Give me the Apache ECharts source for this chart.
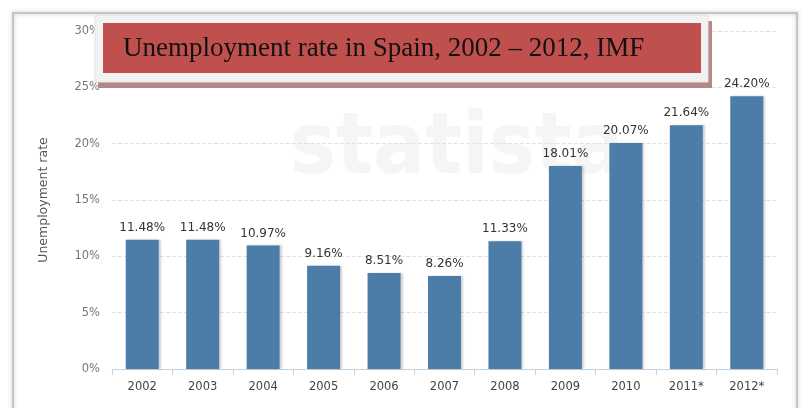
<!DOCTYPE html>
<html><head><meta charset="utf-8">
<script src="https://cdn.jsdelivr.net/npm/echarts@6/dist/echarts.min.js"></script>
<style>html,body{margin:0;padding:0;background:#fff}#c{width:803px;height:408px}</style>
</head><body><div id="c"></div>
<script>
var years = ['2002','2003','2004','2005','2006','2007','2008','2009','2010','2011*','2012*'];
var rates = [11.48, 11.48, 10.97, 9.16, 8.51, 8.26, 11.33, 18.01, 20.07, 21.64, 24.20];
var yTicks = [0, 5, 10, 15, 20, 25, 30];
var titleText = 'Unemployment rate in Spain, 2002 \u2013 2012, IMF';
var yName = 'Unemployment rate';

var chart = echarts.init(document.getElementById('c'), null, {renderer:'canvas'});
chart.setOption({
  backgroundColor:'#fff',
  animation:false,
  grid:{left:112, right:26, top:31, bottom:39},
  xAxis:{type:'category', data:years,
    axisLine:{lineStyle:{color:'#c3d1df', width:1}},
    axisTick:{show:true, lineStyle:{color:'#c3d1df'}, length:6},
    axisLabel:{color:'#444', fontFamily:'DejaVu Sans', fontSize:11.5, margin:12}},
  yAxis:{type:'value', min:yTicks[0], max:yTicks[yTicks.length-1], interval:5,
    name:yName, nameLocation:'middle', nameGap:62, nameRotate:90,
    nameTextStyle:{color:'#555', fontFamily:'DejaVu Sans', fontSize:12.5},
    axisLine:{show:false}, axisTick:{show:false},
    axisLabel:{color:'#777', fontFamily:'DejaVu Sans', fontSize:11.5, margin:12, formatter:function(v){return v+'%';}},
    splitLine:{lineStyle:{color:'#e2e2e2', type:'dashed'}}},
  series:[{type:'bar', data:rates, barWidth:33, barGap:'0%',
    itemStyle:{color:'#4c7da8', shadowColor:'rgba(0,0,0,0.18)', shadowOffsetX:2, shadowBlur:2},
    label:{show:true, position:'top', distance:6, color:'#333', fontFamily:'DejaVu Sans', fontSize:12,
      formatter:function(p){return p.value.toFixed(2)+'%';}}}],
  graphic:[
    {type:'rect', z:-10, silent:true, shape:{x:13,y:13,width:784,height:420},
      style:{fill:'none', stroke:'#b8b8b8', lineWidth:1.5, shadowBlur:4, shadowColor:'rgba(0,0,0,0.3)'}},
    {type:'text', z:-5, silent:true, left:290, top:108,
      style:{text:'statista', fill:'#f5f5f5', font:'bold 86px "DejaVu Sans Condensed", "Liberation Sans Narrow", sans-serif'}},
    {type:'rect', z:100, silent:true, shape:{x:98,y:21,width:614,height:67},
      style:{fill:'#b58888'}},
    {type:'rect', z:101, silent:true, shape:{x:95,y:15,width:613,height:67},
      style:{fill:'#f1f1f1', stroke:'#e4e4e4', lineWidth:1}},
    {type:'rect', z:102, silent:true, shape:{x:103,y:23,width:598,height:50},
      style:{fill:'#c0504e'}},
    {type:'text', z:103, silent:true, left:123, top:35,
      style:{text:titleText, fill:'#111', font:'27px "Liberation Serif", "Times New Roman", serif'}}
  ]
});
</script></body></html>
